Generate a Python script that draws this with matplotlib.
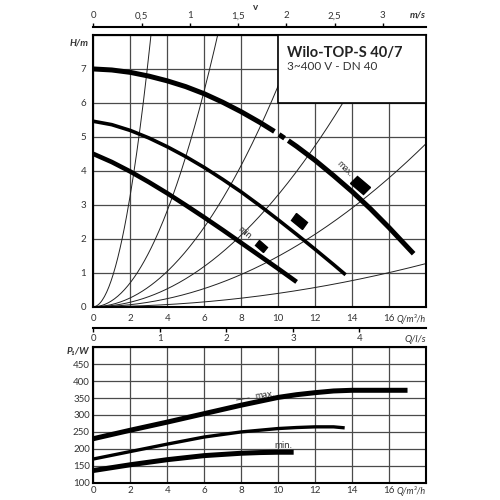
import numpy as np
import matplotlib
matplotlib.use("Agg")
import matplotlib.pyplot as plt
from matplotlib.patches import Rectangle
from matplotlib.markers import MarkerStyle
from matplotlib.transforms import Affine2D

plt.rcParams['font.family'] = ['Lato', 'DejaVu Sans']

# pump head curves, Q in m³/h, H in m (nan = break in the line)
q_max = [0, 1, 2, 3, 4, 5, 6, 7, 8, 9, 9.8, np.nan, 10.05, 10.35, np.nan,
         10.55, 11, 12, 13, 14, 15, 16, 17, 17.33]
h_max = [7.0, 6.97, 6.90, 6.79, 6.65, 6.48, 6.27, 6.02, 5.74, 5.43, 5.16, np.nan, 5.07, 4.96, np.nan,
         4.89, 4.72, 4.31, 3.86, 3.39, 2.88, 2.33, 1.75, 1.56]
q_mid = [0, 1, 2, 3, 4, 5, 6, 7, 8, 9, 10, 11, 12, 13, 13.65]
h_mid = [5.46, 5.36, 5.19, 4.97, 4.71, 4.42, 4.10, 3.75, 3.38, 2.98, 2.56, 2.13, 1.69, 1.24, 0.94]
q_min = [0, 1, 2, 3, 4, 5, 6, 7, 8, 9, 10, 11]
h_min = [4.5, 4.26, 3.98, 3.67, 3.34, 2.99, 2.63, 2.26, 1.88, 1.50, 1.12, 0.73]

# system curves (thin), given by the point where each one leaves the chart
sys_q = [3.12, 6.73, 10.0, 13.5, 18.0, 18.0]
sys_h = [8.0, 8.0, 6.5, 6.0, 4.8, 1.27]

# speed stage marks on the head curves
mark_q = [9.08, 11.14, 14.44]
mark_h = [1.80, 2.53, 3.57]
mark_size = [5, 7, 8]

# power input curves, P1 in W
pq_max = [0, 2, 4, 6, 8, 10, 11, 12, 13, 14, 16, 17]
p_max = [230, 255, 279, 304, 329, 352, 360, 366, 371, 373, 373, 373]
pq_mid = [0, 2, 4, 6, 8, 10, 11, 12, 13, 13.6]
p_mid = [170, 192, 214, 235, 250, 260, 263, 265, 265, 262]
pq_min = [0, 2, 4, 6, 8, 9, 10, 10.84]
p_min = [136, 153, 168, 180, 187, 189, 190, 190]

q_ticks = list(range(0, 17, 2))
h_ticks = list(range(0, 8))
p_ticks = list(range(100, 451, 50))
v_ticks = [0, 0.5, 1, 1.5, 2, 2.5, 3]
ls_ticks = [0, 1, 2, 3, 4]
V_PER_Q = 5.22   # m³/h per m/s for the velocity scale
LS_PER_Q = 3.6   # m³/h per l/s

label_col = '#333333'
grid_col = '#4a4a4a'

fig = plt.figure(figsize=(5, 5), dpi=100)

# ---- head chart
ax = fig.add_axes([0.1866, 0.3866, 0.6654, 0.5434])
ax.set_xlim(0, 18)
ax.set_ylim(0, 8)
ax.set_xticks(list(range(0, 19, 2)), [str(t) for t in q_ticks] + ['Q/m³/h'])
ax.set_yticks(list(range(0, 9)), [str(t) for t in h_ticks] + [''])
ax.grid(True, color=grid_col, lw=0.9)
ax.set_axisbelow(True)
ax.tick_params(length=0, labelsize=7, labelcolor=label_col, pad=5)
xl = ax.get_xticklabels()[-1]
xl.set_ha('right'); xl.set_style('italic'); xl.set_fontsize(6.5)
for s in ax.spines.values():
    s.set_linewidth(1.5)

qq = np.linspace(0, 18, 300)
for q_end, h_end in zip(sys_q, sys_h):
    k = h_end / q_end ** 2
    ax.plot(qq, k * qq ** 2, color='#222222', lw=0.7, zorder=2)

ax.plot(q_max, h_max, color='black', lw=3.6, solid_capstyle='butt', zorder=4)
ax.plot(q_mid, h_mid, color='black', lw=2.6, solid_capstyle='butt', zorder=4)
ax.plot(q_min, h_min, color='black', lw=3.3, solid_capstyle='butt', zorder=4)

for q, h, ms in zip(mark_q, mark_h, mark_size):
    m = MarkerStyle('s', transform=Affine2D().scale(1.5, 0.9).rotate_deg(-40))
    ax.plot(q, h, marker=m, ms=ms, color='black', ls='none', zorder=5)

ax.text(13.6, 4.07, 'max.', fontsize=6.5, rotation=-45, ha='center', va='center', color=label_col, zorder=5)
ax.text(8.2, 2.15, 'min.', fontsize=6.5, rotation=-40, ha='center', va='center', color=label_col, zorder=5)

ax.add_patch(Rectangle((10, 6), 8, 2, facecolor='white', edgecolor='black', lw=1.2, zorder=3))
ax.text(10.5, 7.47, 'Wilo-TOP-S 40/7', fontsize=10.5, fontweight='bold', color='#222222',
        ha='left', va='center', zorder=6)
ax.text(10.5, 7.07, '3~400 V - DN 40', fontsize=8.5, color=label_col, ha='left', va='center', zorder=6)
ax.text(-0.015, 7.75, 'H/m', transform=ax.get_yaxis_transform(), fontsize=7, style='italic',
        fontweight='bold', ha='right', va='center', color=label_col)

# ---- velocity scale on top
axv = fig.add_axes([0.1866, 0.9466, 0.6654, 0.0])
axv.set_xlim(0, 18 / V_PER_Q)
axv.set_yticks([])
for side in ['left', 'right', 'bottom']:
    axv.spines[side].set_visible(False)
axv.spines['top'].set_linewidth(1.5)
axv.xaxis.tick_top()
axv.set_xticks(v_ticks, ['0', '0,5', '1', '1,5', '2', '2,5', '3'])
axv.tick_params(direction='out', length=3, width=1, labelsize=7, labelcolor=label_col, pad=1.5)
axv.annotate('m/s', xy=(1, 0), xycoords='axes fraction', xytext=(0, 5), textcoords='offset points',
             ha='right', va='bottom', fontsize=7, style='italic', fontweight='bold', color=label_col)
axv.annotate('v', xy=(0.487, 0), xycoords='axes fraction', xytext=(0, 14), textcoords='offset points',
             ha='center', va='center', fontsize=7, fontweight='bold', color=label_col)

# ---- l/s scale between charts
axl = fig.add_axes([0.1866, 0.3446, 0.6654, 0.0])
axl.set_xlim(0, 18 / LS_PER_Q)
axl.set_yticks([])
for side in ['left', 'right', 'top']:
    axl.spines[side].set_visible(False)
axl.spines['bottom'].set_linewidth(1.5)
axl.set_xticks(ls_ticks, [str(t) for t in ls_ticks])
axl.tick_params(direction='out', length=3, width=1, labelsize=7, labelcolor=label_col, pad=1.5)
axl.annotate('Q/l/s', xy=(1, 0), xycoords='axes fraction', xytext=(0, -5), textcoords='offset points',
             ha='right', va='top', fontsize=7, style='italic', color=label_col)

# ---- power chart
axp = fig.add_axes([0.1866, 0.0346, 0.6654, 0.2708])
axp.set_xlim(0, 18)
axp.set_ylim(100, 500)
axp.set_xticks(list(range(0, 19, 2)), [str(t) for t in q_ticks] + ['Q/m³/h'])
axp.set_yticks(p_ticks + [500], [str(t) for t in p_ticks] + [''])
axp.grid(True, color=grid_col, lw=0.9)
axp.set_axisbelow(True)
axp.tick_params(length=0, labelsize=7, labelcolor=label_col, pad=2.5)
xl = axp.get_xticklabels()[-1]
xl.set_ha('right'); xl.set_style('italic'); xl.set_fontsize(6.5)
for s in axp.spines.values():
    s.set_linewidth(1.5)

axp.plot(pq_max, p_max, color='black', lw=3.6, solid_capstyle='butt', zorder=4)
axp.plot(pq_mid, p_mid, color='black', lw=2.4, solid_capstyle='butt', zorder=4)
axp.plot(pq_min, p_min, color='black', lw=3.6, solid_capstyle='butt', zorder=4)

axp.annotate('max.', xy=(7.6, 343), xytext=(9.3, 358), fontsize=7, rotation=8, ha='center', va='center',
             color=label_col, arrowprops=dict(arrowstyle='-', lw=0.6, color=label_col))
axp.text(10.3, 209, 'min.', fontsize=7, ha='center', va='center', color=label_col)
axp.text(-0.012, 489, 'P₁/W', transform=axp.get_yaxis_transform(), fontsize=7, style='italic',
         fontweight='bold', ha='right', va='center', color=label_col)

fig.savefig('out.png', dpi=100, facecolor='white')
